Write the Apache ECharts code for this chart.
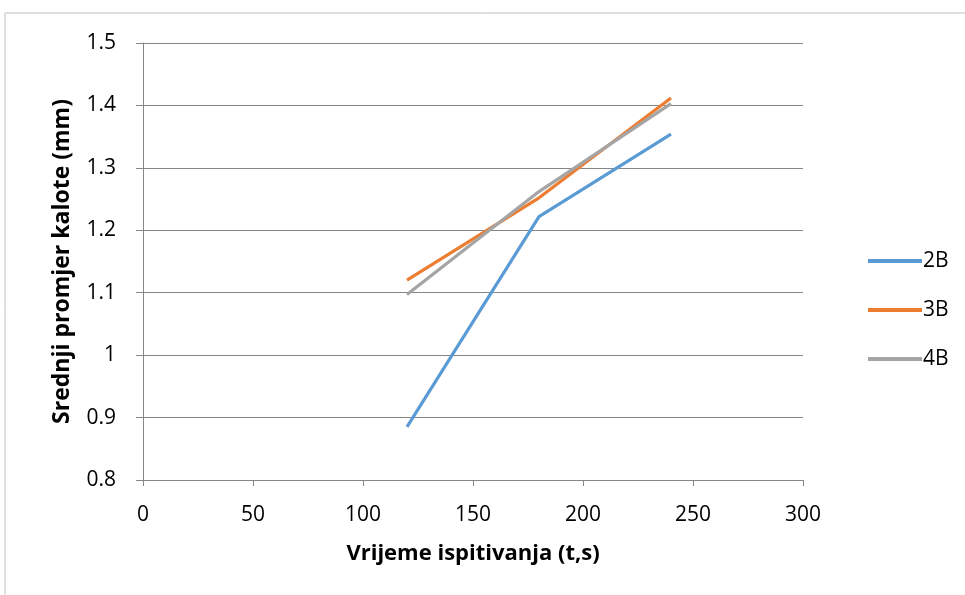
<!DOCTYPE html>
<html>
<head>
<meta charset="utf-8">
<script src="https://cdn.jsdelivr.net/npm/echarts@6/dist/echarts.min.js"></script>
<style>
  html, body { margin: 0; padding: 0; background: #fff; }
  #main { width: 965px; height: 595px; }
</style>
</head>
<body>
<div id="main"></div>
<script>
// data
let times = [120, 180, 240];
let s2B = [0.885, 1.222, 1.354];
let s3B = [1.12, 1.252, 1.412];
let s4B = [1.097, 1.262, 1.403];
let seriesNames = ['2B', '3B', '4B'];
let colors = ['#5B9BD5', '#ED7D31', '#A5A5A5'];

function pairs(ys) {
    return times.map((t, i) => [t, ys[i]]);
}

let font = '"Open Sans", sans-serif';
let myChart = echarts.init(document.getElementById('main'));

let option = {
    backgroundColor: 'white',
    animation: false,
    color: colors,
    graphic: [{
        type: 'rect',
        shape: { x: 5, y: 13, width: 1000, height: 700 },
        style: { fill: 'none', stroke: '#bfbfbf', lineWidth: 1 },
        silent: true
    }],
    grid: { left: 143, right: 162, top: 43, bottom: 115 },
    legend: {
        orient: 'vertical',
        left: 863,
        top: 244,
        itemWidth: 54,
        itemHeight: 4,
        itemGap: 25,
        icon: 'rect',
        textStyle: { fontFamily: font, fontSize: 21, lineHeight: 24, color: '#000', padding: [0, 0, 0, -4] },
        data: seriesNames
    },
    xAxis: {
        type: 'value',
        min: 0,
        max: 300,
        interval: 50,
        name: 'Vrijeme ispitivanja (t,s)',
        nameLocation: 'middle',
        nameGap: 63,
        nameTextStyle: { fontFamily: font, fontSize: 22, fontWeight: 'bold', color: '#000' },
        axisLine: { show: true, lineStyle: { color: '#868686', width: 1 } },
        axisTick: { show: true, length: 6, lineStyle: { color: '#868686' } },
        axisLabel: { fontFamily: font, fontSize: 21, color: '#000', margin: 25 },
        splitLine: { show: false }
    },
    yAxis: {
        type: 'value',
        min: 0.8,
        max: 1.5,
        interval: 0.1,
        name: 'Srednji promjer kalote (mm)',
        nameLocation: 'middle',
        nameGap: 69,
        nameTextStyle: { fontFamily: font, fontSize: 23, fontWeight: 'bold', color: '#000' },
        axisLine: { show: true, lineStyle: { color: '#868686', width: 1 } },
        axisTick: { show: true, length: 7, lineStyle: { color: '#868686' } },
        axisLabel: {
            fontFamily: font, fontSize: 21, color: '#000', margin: 27,
            formatter: (v) => String(Math.round(v * 10) / 10)
        },
        splitLine: { show: true, lineStyle: { color: '#868686', width: 1 } }
    },
    series: [
        { name: '2B', type: 'line', data: pairs(s2B), showSymbol: false, lineStyle: { width: 3.2 } },
        { name: '3B', type: 'line', data: pairs(s3B), showSymbol: false, lineStyle: { width: 3.2 } },
        { name: '4B', type: 'line', data: pairs(s4B), showSymbol: false, lineStyle: { width: 3.2 } }
    ]
};
myChart.setOption(option);
</script>
</body>
</html>
